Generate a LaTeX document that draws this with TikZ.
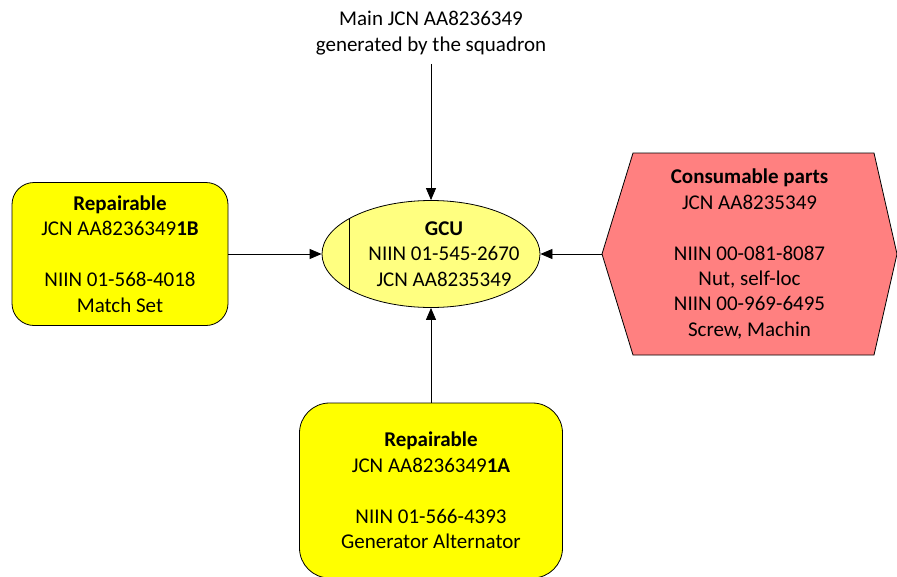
\documentclass[tikz,border=0pt]{standalone}
\usepackage{fontspec}
\setmainfont{Carlito}
\usetikzlibrary{
	arrows.meta,
	shapes.geometric,
	calc
}
\definecolor{repfill}{HTML}{FFFF00}
\definecolor{gcufill}{HTML}{FFFF80}
\definecolor{consfill}{HTML}{FF8080}
\tikzset{
	part text/.style={
		align=center,
		inner sep=0pt,
		font=\fontsize{21}{25.4}\selectfont
	},
	part box/.style={
		part text,
		draw=black,
		fill=repfill,
		line width=0.8pt
	},
	feed/.style={
		line width=0.8pt,
		-{Triangle[length=12pt,width=10pt]}
	}
}

\begin{document}
\begin{tikzpicture}[x=1pt,y=-1pt]
		\useasboundingbox (0,0) rectangle (897,576);
		% source of the job
		\node[part text] (squad) at (431,33) {Main JCN AA8236349\\generated by the squadron};
		% the gcu in the middle
		\node[draw=black, fill=gcufill, ellipse, line width=0.8pt, minimum width=218pt, minimum height=107pt, inner sep=0pt] (gcu) at (431,254) {};
		\draw[line width=0.8pt] ($(gcu.center)+(-82,-35)$) -- ($(gcu.center)+(-82,35)$);
		\node[part text] (gcutext) at (444,254) {\textbf{GCU}\\NIIN 01-545-2670\\JCN AA8235349};
		% repairables
		\node[part box, rounded corners=22pt, minimum width=216pt, minimum height=143pt] (rep1b) at (120,254)
			{\textbf{Repairable}\\JCN AA8236349\textbf{1B}\\[25.4pt]NIIN 01-568-4018\\Match Set};
		\node[part box, rounded corners=30pt, minimum width=263pt, minimum height=175pt] (rep1a) at (431,490.5)
			{\textbf{Repairable}\\JCN AA8236349\textbf{1A}\\[25.4pt]NIIN 01-566-4393\\Generator Alternator};
		% consumables
		\draw[fill=consfill, line width=0.8pt] (602,254) coordinate (cons) -- (633,153) -- (874,153) -- (897,254) -- (874,355) -- (633,355) -- cycle;
		\node[part text] (constext) at (749.5,254)
			{\textbf{Consumable parts}\\JCN AA8235349\\[25.4pt]NIIN 00-081-8087\\Nut, self-loc\\NIIN 00-969-6495\\Screw, Machin};
		% arrows into the gcu
		\draw[feed] ([yshift=-9pt]squad.south) -- (gcu.north);
		\draw[feed] (rep1b.east) -- (gcu.west);
		\draw[feed] (cons) -- (gcu.east);
		\draw[feed] (rep1a.north) -- (gcu.south);
	\end{tikzpicture}
\end{document}
